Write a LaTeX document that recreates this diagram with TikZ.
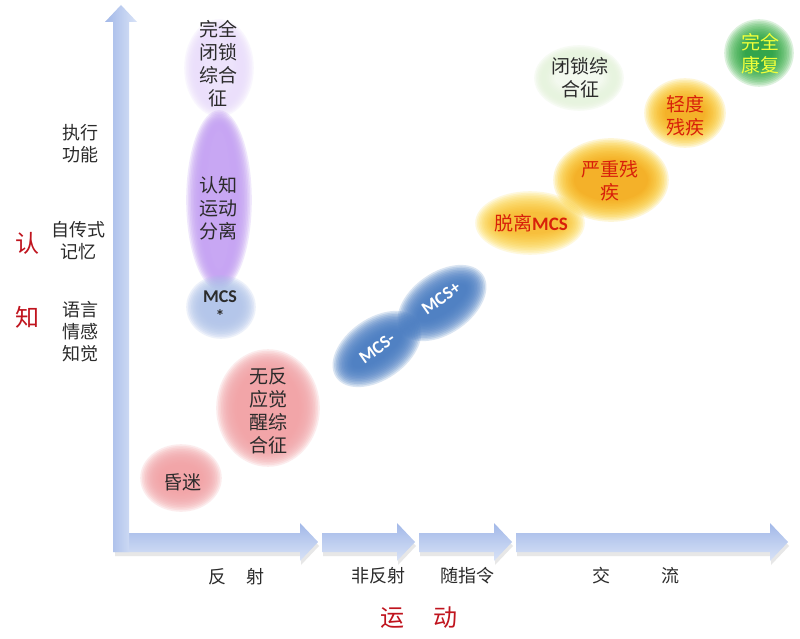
\documentclass[tikz,border=0pt]{standalone}
\usepackage{fontspec}
\usepackage{xcolor}
\usepackage{tikz}
\usetikzlibrary{calc}
\newfontfamily\cjk{Noto Sans CJK SC}
\newfontfamily\lat{Carlito}
\definecolor{ink}{HTML}{2B2B2B}
\definecolor{axred}{HTML}{C0141E}
\definecolor{disred}{HTML}{D8200A}
\definecolor{recyel}{HTML}{F0FF3A}
\definecolor{axisdark}{HTML}{A2B8E8}
\definecolor{axislight}{HTML}{D9E3F7}
\definecolor{pinkc}{HTML}{F2A3A6}
\definecolor{purpcore}{HTML}{CDAEF7}
\definecolor{purphalo}{HTML}{B68BEF}
\definecolor{lavcore}{HTML}{F1E8FD}
\definecolor{lavhalo}{HTML}{E3D3FA}
\definecolor{starcore}{HTML}{B6C9EC}
\definecolor{starhalo}{HTML}{A7BCE7}
\definecolor{mcsblue}{HTML}{4A7DC2}
\definecolor{orcore}{HTML}{F4A21A}
\definecolor{orhalo}{HTML}{FFD83A}
\definecolor{emcore}{HTML}{F7B32A}
\definecolor{emhalo}{HTML}{FFE25A}
\definecolor{grcore}{HTML}{FFFFFF}
\definecolor{grhalo}{HTML}{D3ECC3}
\definecolor{reccore}{HTML}{1F9A40}
\definecolor{rechalo}{HTML}{58BE5A}
\tikzset{
  lab/.style={text=ink, font=\cjk\fontsize{18}{22}\selectfont, align=center},
  blobtxt/.style={text=ink, font=\cjk\fontsize{19}{23}\selectfont, align=center},
  axlab/.style={text=axred, font=\cjk\fontsize{24}{28}\selectfont},
  mcstxt/.style={text=white, font=\lat\bfseries\fontsize{18}{20}\selectfont, rotate=35, inner sep=0pt},
  distxt/.style={text=disred, font=\cjk\fontsize{19}{23}\selectfont, align=center},
  hbar/.style={top color=axisdark, bottom color=axislight},
  vbar/.style={left color=axisdark, right color=axislight},
  barshadow/.style={fill=gray!60, opacity=0.3},
}

\begin{document}
\begin{tikzpicture}[x=1pt, y=-1pt]
  \useasboundingbox[fill=white] (0,0) rectangle (800,639);

  % axes
  \foreach \xa/\xb/\xc in {114/300/318, 322/397/415, 419/494/512, 516/770/788} {
    \fill[barshadow, shift={(1,4)}] (\xa,533) -- (\xb,533) -- (\xb,523) -- (\xc,542) -- (\xb,561) -- (\xb,552) -- (\xa,552) -- cycle;
    \shade[hbar] (\xa,533) -- (\xb,533) -- (\xb,523) -- (\xc,542) -- (\xb,561) -- (\xb,552) -- (\xa,552) -- cycle;
  }
  \shade[vbar] (113,552) -- (113,22) -- (105,22) -- (121,5) -- (137,22) -- (129,22) -- (129,552) -- cycle;

  % soft blobs: x/y/x radius/y radius/angle/core/halo
  \foreach \cx/\cy/\rx/\ry/\ang/\core/\halo in {
      181/478/36/29/0/pinkc/pinkc,
      268/408/47/54/0/pinkc/pinkc,
      219/68/30/44/0/lavcore/lavhalo,
      219/200/28/85/0/purpcore/purphalo,
      221/307/30/27/0/starcore/starhalo,
      377/349/45/26/35/mcsblue/mcsblue,
      442/303/45/26/35/mcsblue/mcsblue,
      530/223/50/27/0/emcore/emhalo,
      611/180/53/37/0/orcore/orhalo,
      685/113/36/30/0/orcore/orhalo,
      579/78/40/28/0/grcore/grhalo,
      759/53/30/29/0/reccore/rechalo} {
    \foreach \k [evaluate=\k as \d using -16+1.6*\k, evaluate=\k as \p using int(100-7*\k)] in {13,...,0}
      \fill[fill=\core!\p!\halo, opacity=0.2, rotate around={\ang:(\cx,\cy)}] (\cx,\cy) ellipse ({\rx+\d} and {\ry+\d});
  }

  % blob labels
  \node[blobtxt] (lis) at (218,64) {完全\\闭锁\\综合\\征};
  \node[blobtxt] (cmd) at (218,208) {认知\\运动\\分离};
  \node[text=ink, font=\lat\bfseries\fontsize{18}{20}\selectfont, align=center] (mcsstar) at (220,307) {MCS\\*};
  \node[blobtxt] (uws) at (268,411) {无反\\应觉\\醒综\\合征};
  \node[blobtxt] (coma) at (182,482) {昏迷};
  \node[mcstxt] (mcsminus) at (377,348) {MCS-};
  \node[mcstxt] (mcsplus) at (441,298) {MCS+};
  \node[text=disred, font=\cjk\fontsize{19}{23}\selectfont] (emcs) at (531,223) {脱离{\lat\bfseries MCS}};
  \node[distxt] (sevdis) at (610,181) {严重残\\疾};
  \node[distxt] (moddis) at (685,116) {轻度\\残疾};
  \node[blobtxt] (lis2) at (580,78) {闭锁综\\合征};
  \node[text=recyel, font=\cjk\fontsize{19}{23}\selectfont, align=center] (recov) at (760,54) {完全\\康复};

  % cognition side
  \node[lab] (exec) at (80,144) {执行\\功能};
  \node[lab] (auto) at (78,241) {自传式\\记忆};
  \node[lab] (lang) at (80,332) {语言\\情感\\知觉};
  \node[axlab] (cog1) at (27,243) {认};
  \node[axlab] (cog2) at (27,317) {知};

  % motor side
  \node[lab] (refl) at (236,577) {反\hspace{20pt}射};
  \node[lab] (nrefl) at (378,576) {非反射};
  \node[lab] (cmdf) at (467,576) {随指令};
  \node[lab] (comm) at (636,576) {交\hspace{52pt}流};
  \node[axlab] (motor) at (419,618) {运\hspace{29pt}动};
\end{tikzpicture}
\end{document}
